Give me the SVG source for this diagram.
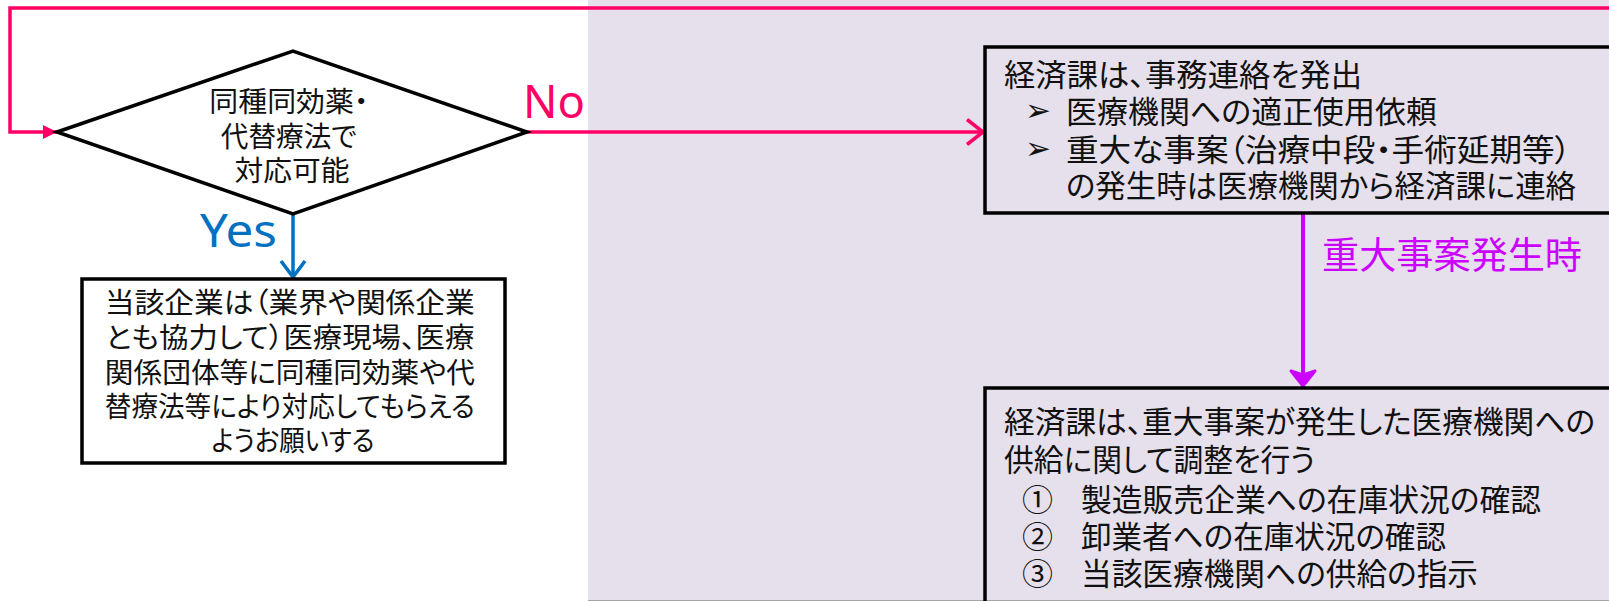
<svg xmlns="http://www.w3.org/2000/svg" width="1609" height="601" viewBox="0 0 1609 601">
  <style>
    .jp { font-family: "Noto Sans CJK JP", "Noto Sans CJK SC", sans-serif; fill: #111; font-feature-settings: "palt"; }
    .f28 { font-size: 28px; }
    .f31 { font-size: 31px; }
    .lat { font-family: "Noto Sans", "Liberation Sans", sans-serif; font-size: 46px; }
    .box { stroke: #000; stroke-width: 3.5; }
    .bul { font-family: "DejaVu Sans", sans-serif; font-size: 31px; fill: #111; }
    .pink { stroke: #FF0066; stroke-width: 3.5; fill: none; }
    .blue { stroke: #0070C0; stroke-width: 3.5; fill: none; }
    .mag { stroke: #CC00FF; stroke-width: 4; fill: none; }
  </style>
  <defs>
    <marker id="tri-pink" viewBox="0 0 14 14" refX="14" refY="7" markerWidth="14" markerHeight="14" markerUnits="userSpaceOnUse" orient="auto">
      <path d="M0,0 L14,7 L0,14 Z" fill="#FF0066"/>
    </marker>
    <marker id="open-pink" viewBox="0 0 22 30" refX="19" refY="15" markerWidth="22" markerHeight="30" markerUnits="userSpaceOnUse" orient="auto">
      <path d="M3,2.5 L19,15 L3,27.5" fill="none" stroke="#FF0066" stroke-width="3.5"/>
    </marker>
    <marker id="open-blue" viewBox="0 0 22 30" refX="19" refY="15" markerWidth="22" markerHeight="30" markerUnits="userSpaceOnUse" orient="auto">
      <path d="M3,3 L19,15 L3,27" fill="none" stroke="#0070C0" stroke-width="3.5"/>
    </marker>
    <marker id="open-mag" viewBox="0 0 22 30" refX="19" refY="15" markerWidth="22" markerHeight="30" markerUnits="userSpaceOnUse" orient="auto">
      <path d="M4,3 L19,15 L4,27 L8,15 Z" fill="#CC00FF" stroke="#CC00FF" stroke-width="3" stroke-linejoin="round"/>
    </marker>
  </defs>

  <rect id="background" x="0" y="0" width="1609" height="601" fill="#FFFFFF"/>
  <g id="lavender-area">
    <rect x="588" y="0" width="1021" height="601" fill="#E6E0EC"/>
    <line x1="588" y1="600.5" x2="1609" y2="600.5" stroke="#A6A6A6" stroke-width="1"/>
  </g>

  <g id="connectors">
    <polyline class="pink" points="1612,8 10,8 10,132 57,132" marker-end="url(#tri-pink)"/>
    <line class="pink" x1="527" y1="132" x2="983" y2="132" marker-end="url(#open-pink)"/>
    <line class="blue" x1="293" y1="214" x2="293" y2="277" marker-end="url(#open-blue)"/>
    <line class="mag" x1="1303" y1="213" x2="1303" y2="386" marker-end="url(#open-mag)"/>
    <text class="lat" x="523" y="118" fill="#FF0066" textLength="62" lengthAdjust="spacingAndGlyphs">No</text>
    <text class="lat" x="200" y="247" fill="#0070C0" textLength="77" lengthAdjust="spacingAndGlyphs">Yes</text>
    <text class="jp" x="1322" y="269" style="font-size:37px; fill:#CC00FF" textLength="260" lengthAdjust="spacingAndGlyphs">重大事案発生時</text>
  </g>

  <g id="decision">
    <polygon points="57,132 293,51 527,132 293,214" fill="#FFFFFF" stroke="#000" stroke-width="3.5" stroke-linejoin="miter"/>
    <text class="jp f28" text-anchor="middle">
      <tspan x="292" y="112" textLength="159" lengthAdjust="spacingAndGlyphs">同種同効薬・</tspan>
      <tspan x="292" y="147" textLength="136" lengthAdjust="spacingAndGlyphs">代替療法で</tspan>
      <tspan x="292" y="181" textLength="115" lengthAdjust="spacingAndGlyphs">対応可能</tspan>
    </text>
  </g>

  <g id="company-request">
    <rect class="box" x="82" y="279" width="423" height="184" fill="#FFFFFF"/>
    <text class="jp f28" text-anchor="middle">
      <tspan x="293" y="313" textLength="370" lengthAdjust="spacingAndGlyphs">当該企業は（業界や関係企業</tspan>
      <tspan x="293" y="348" textLength="369" lengthAdjust="spacingAndGlyphs">とも協力して）医療現場、医療</tspan>
      <tspan x="293" y="383" textLength="370" lengthAdjust="spacingAndGlyphs">関係団体等に同種同効薬や代</tspan>
      <tspan x="293" y="417" textLength="370" lengthAdjust="spacingAndGlyphs">替療法等により対応してもらえる</tspan>
      <tspan x="293" y="451" textLength="163" lengthAdjust="spacingAndGlyphs">ようお願いする</tspan>
    </text>
  </g>

  <g id="notice">
    <rect class="box" x="985" y="47" width="640" height="166" fill="none"/>
    <text class="jp f31">
      <tspan x="1004" y="86" textLength="358" lengthAdjust="spacingAndGlyphs">経済課は、事務連絡を発出</tspan>
      <tspan class="bul" x="1025" y="121">➢</tspan>
      <tspan x="1066" y="123" textLength="371" lengthAdjust="spacingAndGlyphs">医療機関への適正使用依頼</tspan>
      <tspan class="bul" x="1025" y="159">➢</tspan>
      <tspan x="1066" y="161" textLength="505" lengthAdjust="spacingAndGlyphs">重大な事案（治療中段・手術延期等）</tspan>
      <tspan x="1066" y="197" textLength="510" lengthAdjust="spacingAndGlyphs">の発生時は医療機関から経済課に連絡</tspan>
    </text>
  </g>

  <g id="supply-adjustment">
    <rect class="box" x="985" y="388" width="640" height="220" fill="none"/>
    <text class="jp f31">
      <tspan x="1004" y="433" textLength="591" lengthAdjust="spacingAndGlyphs">経済課は、重大事案が発生した医療機関への</tspan>
      <tspan x="1004" y="471" textLength="311" lengthAdjust="spacingAndGlyphs">供給に関して調整を行う</tspan>
      <tspan x="1022" y="511">①</tspan>
      <tspan x="1081" y="511" textLength="460" lengthAdjust="spacingAndGlyphs">製造販売企業への在庫状況の確認</tspan>
      <tspan x="1022" y="548">②</tspan>
      <tspan x="1081" y="548" textLength="365" lengthAdjust="spacingAndGlyphs">卸業者への在庫状況の確認</tspan>
      <tspan x="1022" y="585">③</tspan>
      <tspan x="1081" y="585" textLength="397" lengthAdjust="spacingAndGlyphs">当該医療機関への供給の指示</tspan>
    </text>
  </g>
</svg>
